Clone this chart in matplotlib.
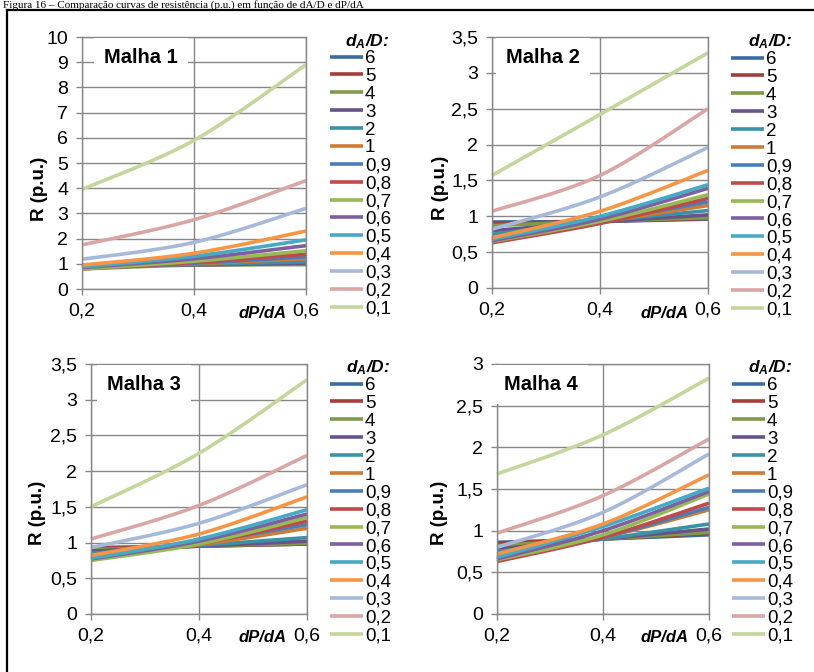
import numpy as np
import matplotlib
matplotlib.use("Agg")
import matplotlib.pyplot as plt
from matplotlib.lines import Line2D

plt.rcParams['font.family'] = ['Liberation Sans', 'DejaVu Sans']
plt.rcParams['mathtext.fontset'] = 'custom'
plt.rcParams['mathtext.rm'] = 'Liberation Sans'
plt.rcParams['mathtext.it'] = 'Liberation Sans:italic'
plt.rcParams['mathtext.bf'] = 'Liberation Sans:bold'
plt.rcParams['mathtext.bfit'] = 'Liberation Sans:italic:bold'

# ---- data -------------------------------------------------------------
dp_da = [0.2, 0.4, 0.6]
ratios = ['6', '5', '4', '3', '2', '1', '0,9', '0,8', '0,7', '0,6',
          '0,5', '0,4', '0,3', '0,2', '0,1']
colors = ['#3d6aa0', '#a33e3b', '#7f9a48', '#68538a', '#3b91a8', '#d07b33',
          '#4a7ebb', '#be4b48', '#98b954', '#7d60a0', '#46aac5', '#f69545',
          '#a7b9d9', '#d9a6a5', '#c3d69b']

malha1 = [
    [0.95, 0.97, 0.98], [0.90, 0.96, 1.00], [0.80, 0.95, 0.97],
    [0.92, 0.96, 1.02], [0.90, 0.98, 1.08], [0.85, 1.00, 1.20],
    [0.82, 1.02, 1.28], [0.80, 1.05, 1.38], [0.80, 1.10, 1.52],
    [0.85, 1.20, 1.72], [0.88, 1.30, 1.95], [0.95, 1.42, 2.30],
    [1.18, 1.85, 3.20], [1.75, 2.75, 4.30], [3.95, 5.90, 8.90],
]
malha2 = [
    [0.92, 0.93, 0.96], [0.90, 0.93, 0.97], [0.87, 0.93, 0.98],
    [0.80, 0.92, 1.02], [0.75, 0.93, 1.08], [0.70, 0.92, 1.15],
    [0.66, 0.93, 1.20], [0.63, 0.90, 1.25], [0.65, 0.93, 1.30],
    [0.66, 0.96, 1.39], [0.68, 1.00, 1.44], [0.70, 1.07, 1.64],
    [0.82, 1.27, 1.96], [1.07, 1.57, 2.50], [1.57, 2.42, 3.28],
]
malha3 = [
    [0.93, 0.95, 0.98], [0.92, 0.95, 0.98], [0.90, 0.95, 0.99],
    [0.88, 0.95, 1.02], [0.85, 0.96, 1.07], [0.82, 0.97, 1.20],
    [0.80, 1.00, 1.25], [0.78, 0.98, 1.30], [0.75, 0.98, 1.35],
    [0.77, 1.02, 1.40], [0.78, 1.05, 1.46], [0.82, 1.12, 1.64],
    [0.93, 1.27, 1.81], [1.05, 1.52, 2.22], [1.50, 2.25, 3.28],
]
malha4 = [
    [0.86, 0.90, 0.95], [0.85, 0.90, 0.97], [0.82, 0.90, 0.98],
    [0.78, 0.90, 1.02], [0.75, 0.90, 1.08], [0.70, 0.92, 1.25],
    [0.66, 0.92, 1.28], [0.63, 0.92, 1.33], [0.65, 0.95, 1.44],
    [0.66, 1.00, 1.47], [0.68, 1.05, 1.51], [0.72, 1.08, 1.67],
    [0.80, 1.22, 1.92], [0.97, 1.42, 2.10], [1.68, 2.15, 2.83],
]

panels = [
    dict(name='Malha 1', data=malha1, ymax=10, ystep=1,
         box=(82, 306, 37, 289), label_at=(141, 63), leg=(330, 50),
         title_at=(389, 42), ylab=(40, 189), dpda=(263, 313)),
    dict(name='Malha 2', data=malha2, ymax=3.5, ystep=0.5,
         box=(492, 708, 37, 288), label_at=(543, 63), leg=(731, 51),
         title_at=(792, 42), ylab=(441, 188), dpda=(665, 313)),
    dict(name='Malha 3', data=malha3, ymax=3.5, ystep=0.5,
         box=(91, 307, 364, 614), label_at=(144, 390), leg=(330, 377),
         title_at=(390, 368), ylab=(38, 513), dpda=(263, 637)),
    dict(name='Malha 4', data=malha4, ymax=3, ystep=0.5,
         box=(497, 709, 364, 614), label_at=(541, 390), leg=(732, 377),
         title_at=(792, 368), ylab=(440, 513), dpda=(665, 637)),
]

W, H = 814, 672
DPI = 100
GRID = '#878787'


def fx(px):
    return px / W


def fy(py):
    return 1 - py / H


def smooth(xs, ys, n=40):
    """Bezier smoothing through the points, like a spreadsheet's smoothed line."""
    p = np.column_stack([xs, ys]).astype(float)
    ext = np.vstack([p[0], p, p[-1]])
    out = []
    t = np.linspace(0, 1, n)[:, None]
    for i in range(len(p) - 1):
        p0, p3 = ext[i + 1], ext[i + 2]
        c1 = p0 + (ext[i + 2] - ext[i]) / 6
        c2 = p3 - (ext[i + 3] - ext[i + 1]) / 6
        seg = ((1 - t) ** 3) * p0 + 3 * ((1 - t) ** 2) * t * c1 \
            + 3 * (1 - t) * t ** 2 * c2 + t ** 3 * p3
        out.append(seg if i == 0 else seg[1:])
    s = np.vstack(out)
    return s[:, 0], s[:, 1]


def fmt(v):
    s = f'{v:g}'
    return s.replace('.', ',')


fig = plt.figure(figsize=(W / DPI, H / DPI), dpi=DPI)

# caption line above the frame and the frame itself
fig.text(fx(3), fy(8),
         'Figura 16 – Comparação curvas de resistência (p.u.) em função de dA/D e dP/dA',
         family='Liberation Serif', fontsize=8, ha='left', va='baseline')
fig.add_artist(Line2D([fx(7), fx(W + 5)], [fy(10), fy(10)], color='black', lw=1.6))
fig.add_artist(Line2D([fx(7), fx(7)], [fy(10), fy(H + 5)], color='black', lw=1.6))

for p in panels:
    x0, x1, yt, yb = p['box']
    ax = fig.add_axes([fx(x0), fy(yb), fx(x1 - x0), (yb - yt) / H])
    handles = []
    for lab, col, vals in zip(ratios, colors, p['data']):
        sx, sy = smooth(dp_da, vals)
        ln, = ax.plot(sx, sy, color=col, lw=2.6, solid_capstyle='butt',
                      clip_on=False, label=lab)
        handles.append(ln)
    ax.set_xlim(0.2, 0.6)
    ax.set_ylim(0, p['ymax'])
    yt_vals = np.arange(0, p['ymax'] + 1e-9, p['ystep'])
    ax.set_yticks(yt_vals)
    ax.set_yticklabels([fmt(round(v, 2)) for v in yt_vals])
    ax.set_xticks(dp_da)
    ax.set_xticklabels([fmt(v) for v in dp_da])
    ax.grid(True, color=GRID, lw=1.0)
    ax.set_axisbelow(True)
    for sp in ax.spines.values():
        sp.set_color(GRID)
        sp.set_linewidth(1.0)
    ax.tick_params(axis='both', colors=GRID, length=4, width=1.0,
                   labelsize=14, labelcolor='black', pad=6)

    lx, ly = p['label_at']
    fig.text(fx(lx), fy(ly), p['name'], fontsize=14.5, fontweight='bold',
             ha='center', va='baseline',
             bbox=dict(facecolor='white', edgecolor='none', pad=7))

    yx, yy = p['ylab']
    fig.text(fx(yx), fy(yy), 'R (p.u.)', fontsize=13.5, fontweight='bold',
             rotation=90, ha='center', va='center')

    dx, dy = p['dpda']
    fig.text(fx(dx), fy(dy), 'dP/dA', fontsize=12, fontweight='bold',
             style='italic', ha='center', va='center')

    tx, ty = p['title_at']
    fig.text(fx(tx), fy(ty), r'$\mathbfit{d}_{\mathbfit{A}}\mathbfit{/D}$:',
             fontsize=12.5, fontweight='bold', style='italic',
             ha='right', va='center')

    gx, gy = p['leg']
    ax.legend(handles=handles, loc='upper left',
              bbox_to_anchor=(fx(gx), fy(gy)), bbox_transform=fig.transFigure,
              frameon=False, fontsize=13.5, handlelength=1.75,
              handletextpad=0.12, labelspacing=0.04, borderpad=0,
              borderaxespad=0)

fig.savefig('out.png', dpi=DPI, facecolor='white')
